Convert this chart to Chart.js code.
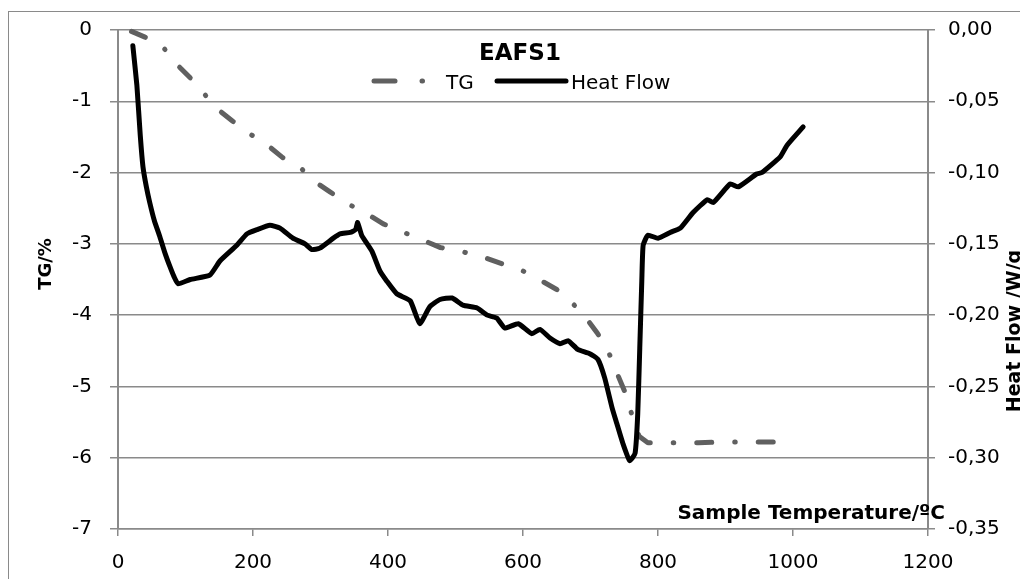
<!DOCTYPE html>
<html>
<head>
<meta charset="utf-8">
<script src="https://cdn.jsdelivr.net/npm/chart.js@4.4.1/dist/chart.umd.min.js"></script>
<style>
  html, body { margin:0; padding:0; background:#fff; }
  #wrap { position:relative; width:1020px; height:579px; overflow:hidden; background:#fff; font-family:"DejaVu Sans", sans-serif; color:#000; }
  #c { position:absolute; left:0; top:0; }
  .frame { position:absolute; left:8px; top:11px; width:1100px; height:700px; border:1.5px solid #8a8a8a; box-sizing:border-box; }
  .txt { position:absolute; white-space:nowrap; line-height:1; }
</style>
</head>
<body>
<div id="wrap">
  <div class="frame"></div>
  <canvas id="c" width="1020" height="579"></canvas>
  <div class="txt" id="title" style="left:520px;top:41px;transform:translateX(-50%);font-weight:bold;font-size:23px;">EAFS1</div>
  <svg style="position:absolute;left:0;top:0;" width="1020" height="579">
    <line x1="374" y1="81" x2="395" y2="81" stroke="#606060" stroke-width="5" stroke-linecap="round"/>
    <line x1="422" y1="81" x2="422.5" y2="81" stroke="#606060" stroke-width="5" stroke-linecap="round"/>
    <line x1="497" y1="81" x2="566" y2="81" stroke="#000" stroke-width="5" stroke-linecap="round"/>
  </svg>
  <div class="txt" style="left:446px;top:72px;font-size:20px;">TG</div>
  <div class="txt" style="left:571px;top:72px;font-size:20px;">Heat Flow</div>
  <div class="txt" style="left:45px;top:264px;transform:translate(-50%,-50%) rotate(-90deg);font-weight:bold;font-size:18px;">TG/%</div>
  <div class="txt" style="left:1013px;top:331px;transform:translate(-50%,-50%) rotate(-90deg);font-weight:bold;font-size:19px;">Heat Flow /W/g</div>
  <div class="txt" style="right:75px;top:502px;font-weight:bold;font-size:20px;">Sample Temperature/ºC</div>
</div>
<script>
// ---- data ----
const tgTemp = [20, 40, 65, 90, 110, 130, 150, 170, 196, 222, 244, 270, 292, 314, 341, 369, 393, 421, 450, 477, 510, 539, 569, 596, 622, 650, 670, 692, 710, 726, 740, 752, 762, 772, 785, 800, 830, 860, 890, 920, 950, 988];
const tgValues = [-0.02, -0.10, -0.22, -0.51, -0.70, -0.92, -1.13, -1.28, -1.46, -1.62, -1.79, -1.93, -2.13, -2.27, -2.44, -2.58, -2.72, -2.83, -2.94, -3.05, -3.11, -3.18, -3.28, -3.36, -3.49, -3.64, -3.80, -4.02, -4.25, -4.50, -4.83, -5.10, -5.42, -5.70, -5.79, -5.79, -5.79, -5.79, -5.78, -5.78, -5.78, -5.78];

const hfTemp = [22, 28, 33, 37, 42, 47, 54, 62, 70, 77, 83, 89, 107, 136, 151, 176, 191, 206, 225, 240, 259, 277, 287, 299, 319, 329, 344, 352, 355, 361, 376, 388, 398, 413, 433, 447, 462, 477, 495, 511, 532, 547, 561, 573, 593, 613, 625, 640, 655, 667, 681, 699, 711, 721, 732, 739, 748, 758, 766, 770, 773, 776, 778, 785, 800, 818, 833, 852, 873, 882, 907, 919, 946, 954, 981, 991, 1015];
const hfValues = [-0.011, -0.039, -0.074, -0.096, -0.110, -0.121, -0.134, -0.145, -0.157, -0.166, -0.173, -0.178, -0.175, -0.172, -0.162, -0.151, -0.143, -0.140, -0.137, -0.139, -0.146, -0.150, -0.154, -0.153, -0.146, -0.143, -0.142, -0.140, -0.135, -0.144, -0.155, -0.169, -0.176, -0.185, -0.190, -0.206, -0.194, -0.189, -0.188, -0.193, -0.195, -0.200, -0.202, -0.209, -0.206, -0.213, -0.210, -0.216, -0.220, -0.218, -0.224, -0.227, -0.231, -0.244, -0.265, -0.276, -0.290, -0.302, -0.297, -0.269, -0.223, -0.176, -0.151, -0.144, -0.146, -0.142, -0.139, -0.128, -0.119, -0.121, -0.108, -0.110, -0.101, -0.100, -0.089, -0.081, -0.068];

const xTickValues = [0, 200, 400, 600, 800, 1000, 1200];
const xTickLabels = ['0', '200', '400', '600', '800', '1000', '1200'];
const leftTickValues = [-7, -6, -5, -4, -3, -2, -1, 0];
const leftTickLabels = ['-7', '-6', '-5', '-4', '-3', '-2', '-1', '0'];
const rightTickValues = [-0.35, -0.30, -0.25, -0.20, -0.15, -0.10, -0.05, 0];
const rightTickLabels = ['-0,35', '-0,30', '-0,25', '-0,20', '-0,15', '-0,10', '-0,05', '0,00'];

// ---- chart ----
const gridCol = '#8a8a8a';
const tickFont = { family: 'DejaVu Sans', size: 20 };
function setTicks(values) {
  return function(scale) { scale.ticks = values.map(v => ({ value: v })); };
}
function labelFrom(labels) {
  return function(v, i) { return labels[i]; };
}

new Chart(document.getElementById('c'), {
  type: 'line',
  data: {
    datasets: [
      {
        label: 'TG',
        data: tgTemp.map((t, i) => ({ x: t, y: tgValues[i] })),
        yAxisID: 'y',
        borderColor: '#606060',
        borderWidth: 5,
        borderDash: [15, 23, 0.5, 23],
        borderCapStyle: 'round',
        borderJoinStyle: 'round',
        pointRadius: 0,
        tension: 0,
        fill: false,
        clip: false,
        order: 2
      },
      {
        label: 'Heat Flow',
        data: hfTemp.map((t, i) => ({ x: t, y: hfValues[i] })),
        yAxisID: 'y2',
        borderColor: '#000000',
        borderWidth: 5,
        borderCapStyle: 'round',
        borderJoinStyle: 'round',
        pointRadius: 0,
        tension: 0.15,
        fill: false,
        clip: false,
        order: 1
      }
    ]
  },
  options: {
    responsive: false,
    animation: false,
    devicePixelRatio: 1,
    layout: { padding: { top: 27, left: 0, right: 0, bottom: 0 } },
    plugins: { legend: { display: false }, tooltip: { enabled: false }, title: { display: false } },
    scales: {
      x: {
        type: 'linear',
        min: 0, max: 1200,
        afterBuildTicks: setTicks(xTickValues),
        afterFit: s => { s.height = 50; },
        ticks: { font: tickFont, color: '#000', padding: 15, maxRotation: 0, autoSkip: false, callback: labelFrom(xTickLabels) },
        grid: { drawOnChartArea: false, drawTicks: true, tickLength: 7, color: gridCol, lineWidth: 1.5 },
        border: { display: true, color: gridCol, width: 1.5 }
      },
      y: {
        type: 'linear',
        position: 'left',
        min: -7, max: 0,
        afterBuildTicks: setTicks(leftTickValues),
        afterFit: s => { s.width = 118; },
        ticks: { font: tickFont, color: '#000', padding: 18, autoSkip: false, callback: labelFrom(leftTickLabels) },
        grid: { drawOnChartArea: true, drawTicks: true, tickLength: 8, color: gridCol, lineWidth: 1.5 },
        border: { display: true, color: gridCol, width: 2 }
      },
      y2: {
        type: 'linear',
        position: 'right',
        min: -0.35, max: 0,
        afterBuildTicks: setTicks(rightTickValues),
        afterFit: s => { s.width = 92; },
        ticks: { font: tickFont, color: '#000', padding: 13, autoSkip: false, callback: labelFrom(rightTickLabels) },
        grid: { drawOnChartArea: false, drawTicks: true, tickLength: 7, color: gridCol, lineWidth: 1.5 },
        border: { display: true, color: gridCol, width: 2 }
      }
    }
  }
});
</script>
</body>
</html>
